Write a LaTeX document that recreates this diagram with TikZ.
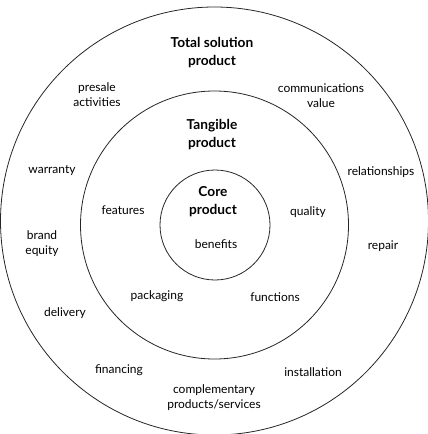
\documentclass[tikz,border=0pt]{standalone}
\usepackage{fontspec}
\setmainfont{Lato}
\usetikzlibrary{positioning}

\begin{document}
\begin{tikzpicture}[x=1pt, y=-1pt,
	ring/.style={draw=black!85, line width=0.8pt},
	item/.style={font=\fontsize{12}{15}\selectfont, align=center, inner sep=1pt},
	heading/.style={font=\bfseries\fontsize{13.7}{17.5}\selectfont, align=center, inner sep=1pt}]
		\useasboundingbox (0,0) rectangle (428,434);

		% Centres of the three circles
		\coordinate (c1) at (214.5,221);
		\coordinate (c2) at (214.5,225);
		\coordinate (c3) at (215,225);

		% Draw the rings
		\draw[ring] (c1) circle[radius=214pt];
		\draw[ring] (c2) circle[radius=134pt];
		\draw[ring] (c3) circle[radius=55pt];

		% Ring titles
		\node[heading] (total) at (212,52.5) {Total solution\\product};
		\node[heading] (tangible) at (212,134.5) {Tangible\\product};
		\node[heading] (core) at (213,201.5) {Core\\product};

		% Core
		\node[item] (benefits) at (216,244) {benefits};

		% Tangible product
		\node[item] (features) at (123,210) {features};
		\node[item] (quality) at (308,212) {quality};
		\node[item] (packaging) at (157,296) {packaging};
		\node[item] (functions) at (275,297) {functions};

		% Total solution product
		\node[item] (presale) at (97,94.5) {presale\\activities};
		\node[item] (comms) at (321,95.5) {communications\\value};
		\node[item] (warranty) at (52,171) {warranty};
		\node[item] (relations) at (381,172) {relationships};
		\node[item] (brand) at (42,244) {brand\\equity};
		\node[item] (repair) at (383,246) {repair};
		\node[item] (delivery) at (65,313) {delivery};
		\node[item] (financing) at (119,370) {financing};
		\node[item] (install) at (313,372) {installation};
		\node[item] (compl) at (214,397.5) {complementary\\products/services};
	\end{tikzpicture}
\end{document}
